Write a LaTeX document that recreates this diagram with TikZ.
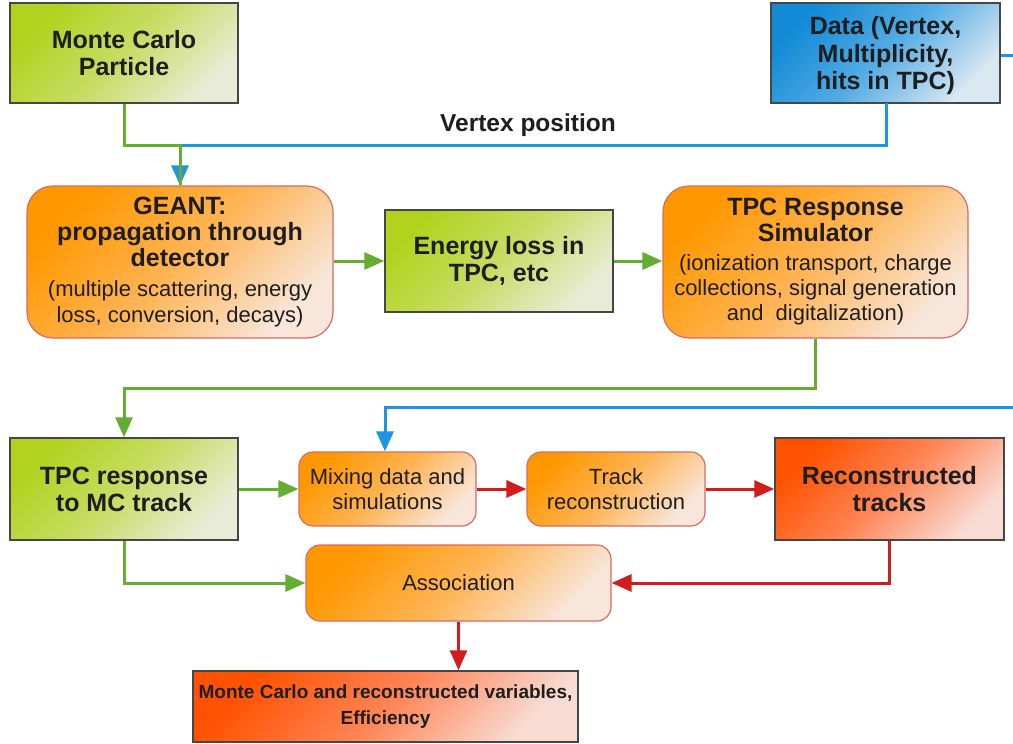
\documentclass[tikz,border=0pt]{standalone}
\usepackage{fontspec}
\setmainfont{Liberation Sans}
\usetikzlibrary{arrows.meta,calc}
\definecolor{lgreen}{RGB}{100,172,50}
\definecolor{lblue}{RGB}{28,150,222}
\definecolor{lred}{RGB}{208,30,30}
\definecolor{gA}{RGB}{178,210,30}
\definecolor{gM}{RGB}{200,220,100}
\definecolor{gB}{RGB}{232,236,214}
\definecolor{bA}{RGB}{18,138,214}
\definecolor{bM}{RGB}{85,172,228}
\definecolor{bB}{RGB}{218,232,242}
\definecolor{oA}{RGB}{255,152,0}
\definecolor{oM}{RGB}{255,180,85}
\definecolor{oB}{RGB}{248,230,218}
\definecolor{rA}{RGB}{255,82,0}
\definecolor{rM}{RGB}{255,132,85}
\definecolor{rB}{RGB}{248,220,212}
\definecolor{sqborder}{RGB}{70,70,70}
\definecolor{rdborder}{RGB}{214,108,98}
\definecolor{txt}{RGB}{30,30,30}
\newcommand{\bigtxt}{\bfseries\fontsize{25}{26}\selectfont}
\newcommand{\smalltxt}{\mdseries\fontsize{22}{26}\selectfont}
\begin{document}
\begin{tikzpicture}[x=1pt,y=-1pt,
  every node/.style={text=txt, align=center, inner sep=0pt},
  bigfont/.style={font=\bfseries\fontsize{25}{27}\selectfont},
  smallfont/.style={font=\fontsize{22}{25}\selectfont},
  sqbox/.style={draw=sqborder, line width=1.5pt, bigfont},
  greenbox/.style={sqbox, top color=gA, bottom color=gB, middle color=gM, shading angle=45},
  bluebox/.style={sqbox, top color=bA, bottom color=bB, middle color=bM, shading angle=45},
  redbox/.style={sqbox, top color=rA, bottom color=rB, middle color=rM, shading angle=45},
  orbox/.style={draw=rdborder, line width=1.2pt, top color=oA, bottom color=oB, middle color=oM, shading angle=45, smallfont},
  conn/.style={line width=3pt, -{Triangle[length=20pt,width=17pt]}},
  gline/.style={conn, draw=lgreen, color=lgreen},
  bline/.style={conn, draw=lblue, color=lblue},
  rline/.style={conn, draw=lred, color=lred}
]
\useasboundingbox (0,0) rectangle (1013,744);
\clip (0,0) rectangle (1013,744);
\fill[white] (0,0) rectangle (1013,744);

% nodes
\node[greenbox, minimum width=228pt, minimum height=100pt] (mc) at (124,53) {Monte Carlo\\Particle};
\node[bluebox, minimum width=229pt, minimum height=100pt, font=\bfseries\fontsize{25}{27.5}\selectfont] (data) at (885.5,53) {\rule{0pt}{24pt}Data (Vertex,\\Multiplicity,\\hits in TPC)};
\node[font=\bfseries\fontsize{24.5}{26}\selectfont] (vpos) at (528,125) {Vertex position};

\node[orbox, rounded corners=26pt, minimum width=306pt, minimum height=152pt] (geant) at (180,262)
  {\bigtxt GEANT:\\[1pt] \bigtxt propagation through\\[1pt] \bigtxt detector\\[5pt] \smalltxt (multiple scattering, energy\\[1pt] \smalltxt loss, conversion, decays)};
\node[greenbox, minimum width=228pt, minimum height=102pt] (eloss) at (499,261) {Energy loss in\\TPC, etc};
\node[orbox, rounded corners=26pt, minimum width=305pt, minimum height=152pt] (tpcs) at (815.5,262)
  {\bigtxt TPC Response\\[1pt] \bigtxt Simulator\\[4pt] \smalltxt (ionization transport, charge\\ \smalltxt collections, signal generation\\ \smalltxt and\ \ digitalization)};

\node[greenbox, minimum width=228pt, minimum height=102pt] (tpcr) at (124,489) {TPC response\\to MC track};
\node[orbox, rounded corners=14pt, minimum width=177pt, minimum height=74pt] (mix) at (387.5,489) {Mixing data and\\simulations};
\node[orbox, rounded corners=14pt, minimum width=178pt, minimum height=74pt] (track) at (616,489) {Track\\reconstruction};
\node[redbox, minimum width=229pt, minimum height=102pt] (recon) at (889.5,489) {Reconstructed\\tracks};
\node[orbox, rounded corners=14pt, minimum width=305pt, minimum height=76pt] (assoc) at (458.5,583) {Association};
\node[redbox, minimum width=385pt, minimum height=71pt, font=\bfseries\fontsize{19}{26}\selectfont] (mcvars) at (385.5,706.5) {Monte Carlo and reconstructed variables,\\Efficiency};

% coordinates
\coordinate (vjoin) at (180,145);
\coordinate (dsouth) at (886,103);
\coordinate (rt1) at (1040,55);
\coordinate (rt2) at (1040,407);
\coordinate (bturn) at (385,407);

% connectors
\draw[bline] (dsouth) |- (vjoin) -- (geant.north);
\draw[gline, -] (mc.south) |- (vjoin) -- (geant.north);
\draw[line width=3pt, lblue] (data.east |- rt1) -- (rt1) -- (rt2);
\draw[gline] (geant.east |- eloss.west) -- (eloss.west);
\draw[gline] (eloss.east) -- (tpcs.west |- eloss.east);
\draw[gline] (tpcs.south) -- ++(0,50) -| (tpcr.north);
\draw[bline] (rt2) -- (bturn) -- (bturn |- mix.north);
\draw[gline] (tpcr.east) -- (mix.west);
\draw[rline] (mix.east) -- (track.west);
\draw[rline] (track.east) -- (recon.west);
\draw[gline] (tpcr.south) |- (assoc.west);
\draw[rline] (recon.south) |- (assoc.east);
\draw[rline] (assoc.south) -- (assoc.south |- mcvars.north);
\end{tikzpicture}
\end{document}
